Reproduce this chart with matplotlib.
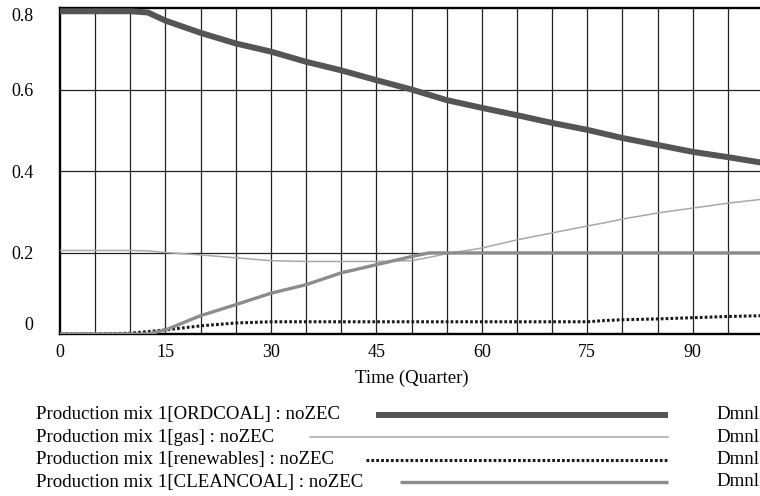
import matplotlib
matplotlib.use("Agg")
import matplotlib.pyplot as plt
from matplotlib.lines import Line2D

# time axis (quarters) and the four production mix series
time = [0, 5, 10, 12.5, 15, 20, 25, 30, 35, 40, 45, 50, 52.5, 55,
        60, 65, 70, 75, 77.5, 80, 85, 90, 95, 100]
ordcoal = [0.792, 0.792, 0.792, 0.789, 0.769, 0.739, 0.713, 0.693, 0.668, 0.647,
           0.623, 0.600, 0.587, 0.574, 0.555, 0.537, 0.518, 0.501, 0.491, 0.481,
           0.464, 0.447, 0.434, 0.420]
gas = [0.205, 0.205, 0.205, 0.204, 0.200, 0.194, 0.187, 0.180, 0.178, 0.178,
       0.178, 0.180, 0.188, 0.197, 0.211, 0.231, 0.248, 0.265, 0.273, 0.282,
       0.297, 0.309, 0.321, 0.331]
renewables = [0.0, 0.0, 0.002, 0.006, 0.010, 0.020, 0.027, 0.030, 0.030, 0.030,
              0.030, 0.030, 0.030, 0.030, 0.030, 0.030, 0.030, 0.030, 0.033, 0.035,
              0.037, 0.040, 0.043, 0.045]
cleancoal = [0.0, 0.0, 0.0, 0.0, 0.010, 0.045, 0.072, 0.100, 0.121, 0.150,
             0.170, 0.190, 0.199, 0.199, 0.199, 0.199, 0.199, 0.199, 0.199, 0.199,
             0.199, 0.199, 0.199, 0.199]

labels = [
    "Production mix 1[ORDCOAL] : noZEC",
    "Production mix 1[gas] : noZEC",
    "Production mix 1[renewables] : noZEC",
    "Production mix 1[CLEANCOAL] : noZEC",
]
units = "Dmnl"
x_ticks = [0, 15, 30, 45, 60, 75, 90]
y_ticks = [0, 0.2, 0.4, 0.6, 0.8]

plt.rcParams['font.family'] = ['Liberation Serif', 'DejaVu Serif']

W, H = 760, 496
fig = plt.figure(figsize=(W / 100, H / 100), dpi=100)


def fx(px):
    return px / W


def fy(py):
    return 1 - py / H


# plot box: left 60px, top 8px, bottom 334px; right edge falls just off the image
ax = fig.add_axes([fx(60), fy(334), (763 - 60) / W, (334 - 8) / H])

styles = [
    dict(color='#555555', lw=4.3, solid_capstyle='butt'),
    dict(color='#a8a8a8', lw=1.1),
    dict(color='#1a1a1a', lw=2.2, linestyle=(0, (0.9, 0.7)), dash_capstyle='butt'),
    dict(color='#8c8c8c', lw=2.4, solid_capstyle='butt'),
]
series = [ordcoal, gas, renewables, cleancoal]

for vals, st in zip(series, styles):
    ax.plot(time, vals, zorder=3, **st)

ax.set_xlim(0, 100)
ax.set_ylim(0, 0.8)

# vensim style grid: every 5 quarters, every 0.2
for t in range(5, 100, 5):
    ax.axvline(t, color='#222222', lw=0.9, zorder=1)
for v in [0.2, 0.4, 0.6]:
    ax.axhline(v, color='#222222', lw=0.9, zorder=1)

ax.set_xticks(x_ticks)
ax.set_xticklabels([str(t) for t in x_ticks])
ax.set_yticks(y_ticks)
ax.set_yticklabels(['0', '0.2', '0.4', '0.6', '0.8'])
ax.tick_params(axis='both', length=0, labelsize=13)
ax.tick_params(axis='y', pad=19)
ax.tick_params(axis='x', pad=7)
ylabs = ax.get_yticklabels()
ylabs[0].set_verticalalignment('bottom')
ylabs[-1].set_verticalalignment('top')

for side in ['left', 'bottom', 'top']:
    ax.spines[side].set_linewidth(1.7)
    ax.spines[side].set_color('black')
ax.spines['right'].set_visible(False)

ax.set_xlabel("Time (Quarter)", fontsize=13.5, labelpad=6.5)

# legend block under the chart
row_y = [414.5, 437, 459.5, 482]
line_x0 = [376, 310, 366, 400]
line_x1 = 668
for lab, y, x0, st in zip(labels, row_y, line_x0, styles):
    fig.text(fx(36), fy(y), lab, fontsize=13.6, va='center', ha='left')
    fig.text(fx(716), fy(y), units, fontsize=13.6, va='center', ha='left')
    fig.add_artist(Line2D([fx(x0), fx(line_x1)], [fy(y), fy(y)],
                          transform=fig.transFigure, **st))

fig.savefig("out.png", dpi=100)
